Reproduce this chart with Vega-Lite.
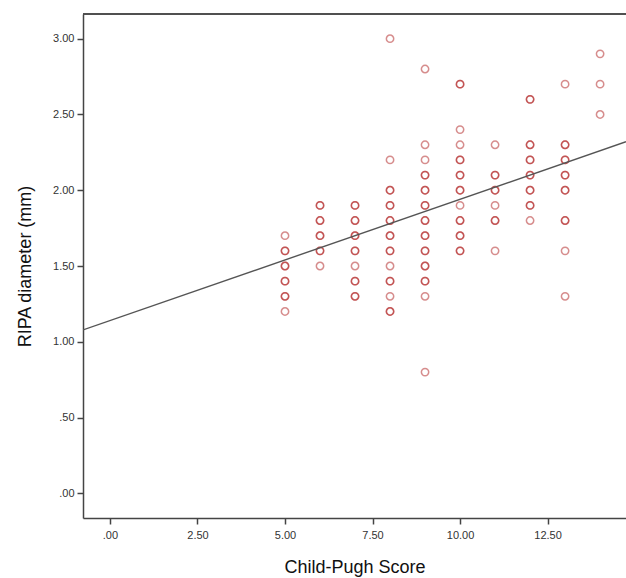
{
  "$schema": "https://vega.github.io/schema/vega-lite/v6.json",
  "width": 543,
  "height": 504,
  "autosize": "none",
  "padding": {"left": 83, "top": 14, "right": 0, "bottom": 60},
  "background": "white",
  "config": {"view": {"stroke": null}, "font": "Liberation Sans"},
  "datasets": {
    "pts": [
      {"score":5,"ripa":1.7},
      {"score":5,"ripa":1.6},{"score":5,"ripa":1.6},
      {"score":5,"ripa":1.5},{"score":5,"ripa":1.5},
      {"score":5,"ripa":1.4},{"score":5,"ripa":1.4},
      {"score":5,"ripa":1.3},{"score":5,"ripa":1.3},
      {"score":5,"ripa":1.2},
      {"score":6,"ripa":1.9},{"score":6,"ripa":1.9},
      {"score":6,"ripa":1.8},{"score":6,"ripa":1.8},
      {"score":6,"ripa":1.7},{"score":6,"ripa":1.7},
      {"score":6,"ripa":1.6},{"score":6,"ripa":1.6},
      {"score":6,"ripa":1.5},
      {"score":7,"ripa":1.9},{"score":7,"ripa":1.9},
      {"score":7,"ripa":1.8},{"score":7,"ripa":1.8},
      {"score":7,"ripa":1.7},{"score":7,"ripa":1.7},
      {"score":7,"ripa":1.6},{"score":7,"ripa":1.6},
      {"score":7,"ripa":1.5},
      {"score":7,"ripa":1.4},{"score":7,"ripa":1.4},
      {"score":7,"ripa":1.3},{"score":7,"ripa":1.3},
      {"score":8,"ripa":3.0},
      {"score":8,"ripa":2.2},
      {"score":8,"ripa":2.0},{"score":8,"ripa":2.0},
      {"score":8,"ripa":1.9},{"score":8,"ripa":1.9},
      {"score":8,"ripa":1.8},{"score":8,"ripa":1.8},
      {"score":8,"ripa":1.7},{"score":8,"ripa":1.7},
      {"score":8,"ripa":1.6},{"score":8,"ripa":1.6},
      {"score":8,"ripa":1.5},
      {"score":8,"ripa":1.4},{"score":8,"ripa":1.4},
      {"score":8,"ripa":1.3},
      {"score":8,"ripa":1.2},{"score":8,"ripa":1.2},
      {"score":9,"ripa":2.8},
      {"score":9,"ripa":2.3},
      {"score":9,"ripa":2.2},
      {"score":9,"ripa":2.1},{"score":9,"ripa":2.1},
      {"score":9,"ripa":2.0},{"score":9,"ripa":2.0},
      {"score":9,"ripa":1.9},{"score":9,"ripa":1.9},
      {"score":9,"ripa":1.8},{"score":9,"ripa":1.8},
      {"score":9,"ripa":1.7},{"score":9,"ripa":1.7},
      {"score":9,"ripa":1.6},{"score":9,"ripa":1.6},
      {"score":9,"ripa":1.5},{"score":9,"ripa":1.5},
      {"score":9,"ripa":1.4},{"score":9,"ripa":1.4},
      {"score":9,"ripa":1.3},
      {"score":9,"ripa":0.8},
      {"score":10,"ripa":2.7},{"score":10,"ripa":2.7},
      {"score":10,"ripa":2.4},
      {"score":10,"ripa":2.3},
      {"score":10,"ripa":2.2},{"score":10,"ripa":2.2},
      {"score":10,"ripa":2.1},{"score":10,"ripa":2.1},
      {"score":10,"ripa":2.0},{"score":10,"ripa":2.0},
      {"score":10,"ripa":1.9},
      {"score":10,"ripa":1.8},{"score":10,"ripa":1.8},
      {"score":10,"ripa":1.7},{"score":10,"ripa":1.7},
      {"score":10,"ripa":1.6},{"score":10,"ripa":1.6},
      {"score":11,"ripa":2.3},
      {"score":11,"ripa":2.1},{"score":11,"ripa":2.1},
      {"score":11,"ripa":2.0},{"score":11,"ripa":2.0},
      {"score":11,"ripa":1.9},
      {"score":11,"ripa":1.8},{"score":11,"ripa":1.8},
      {"score":11,"ripa":1.6},
      {"score":12,"ripa":2.6},{"score":12,"ripa":2.6},
      {"score":12,"ripa":2.3},{"score":12,"ripa":2.3},
      {"score":12,"ripa":2.2},{"score":12,"ripa":2.2},
      {"score":12,"ripa":2.1},{"score":12,"ripa":2.1},
      {"score":12,"ripa":2.0},{"score":12,"ripa":2.0},
      {"score":12,"ripa":1.9},{"score":12,"ripa":1.9},
      {"score":12,"ripa":1.8},
      {"score":13,"ripa":2.7},
      {"score":13,"ripa":2.3},{"score":13,"ripa":2.3},
      {"score":13,"ripa":2.2},{"score":13,"ripa":2.2},
      {"score":13,"ripa":2.1},{"score":13,"ripa":2.1},
      {"score":13,"ripa":2.0},{"score":13,"ripa":2.0},
      {"score":13,"ripa":1.8},{"score":13,"ripa":1.8},
      {"score":13,"ripa":1.6},
      {"score":13,"ripa":1.3},
      {"score":14,"ripa":2.9},
      {"score":14,"ripa":2.7},
      {"score":14,"ripa":2.5}
    ],
    "fit": [
      {"score":-0.77,"ripa":1.078},
      {"score":14.74,"ripa":2.32}
    ]
  },
  "layer": [
    {
      "data": {"name": "pts"},
      "mark": {"type": "point", "shape": "circle", "filled": false, "size": 54, "strokeWidth": 1.5, "color": "#b01e1e", "strokeOpacity": 0.72},
      "encoding": {
        "x": {
          "field": "score", "type": "quantitative",
          "scale": {"domain": [-0.77, 14.74], "nice": false, "zero": false},
          "axis": {
            "title": "Child-Pugh Score", "values": [0, 2.5, 5, 7.5, 10, 12.5],
            "labelExpr": "datum.value < 1 ? slice(format(datum.value, '.2f'), 1) : format(datum.value, '.2f')",
            "grid": false, "domainColor": "#444", "domainWidth": 1.5, "tickColor": "#444", "tickWidth": 1.5, "tickSize": 6,
            "labelColor": "#333", "labelFontSize": 11, "labelPadding": 5, "labelFont": "Liberation Sans",
            "titleFontSize": 18, "titleFontWeight": "normal", "titleColor": "#111", "titlePadding": 18, "titleFont": "Liberation Sans"
          }
        },
        "y": {
          "field": "ripa", "type": "quantitative",
          "scale": {"domain": [-0.163, 3.163], "nice": false, "zero": false},
          "axis": {
            "title": "RIPA diameter (mm)", "values": [0, 0.5, 1, 1.5, 2, 2.5, 3],
            "labelExpr": "datum.value < 1 ? slice(format(datum.value, '.2f'), 1) : format(datum.value, '.2f')",
            "grid": false, "domainColor": "#444", "domainWidth": 1.5, "tickColor": "#444", "tickWidth": 1.5, "tickSize": 6,
            "labelColor": "#333", "labelFontSize": 11, "labelPadding": 3, "labelFont": "Liberation Sans",
            "titleFontSize": 18, "titleFontWeight": "normal", "titleColor": "#111", "titlePadding": 18, "titleFont": "Liberation Sans"
          }
        }
      }
    },
    {
      "data": {"name": "fit"},
      "mark": {"type": "line", "color": "#555", "strokeWidth": 1.4, "clip": true},
      "encoding": {
        "x": {"field": "score", "type": "quantitative"},
        "y": {"field": "ripa", "type": "quantitative"}
      }
    },
    {
      "data": {"name": "fit"},
      "mark": {"type": "rule", "color": "#444", "strokeWidth": 1.5},
      "encoding": {
        "y": {"datum": 3.163, "type": "quantitative"}
      }
    }
  ]
}
